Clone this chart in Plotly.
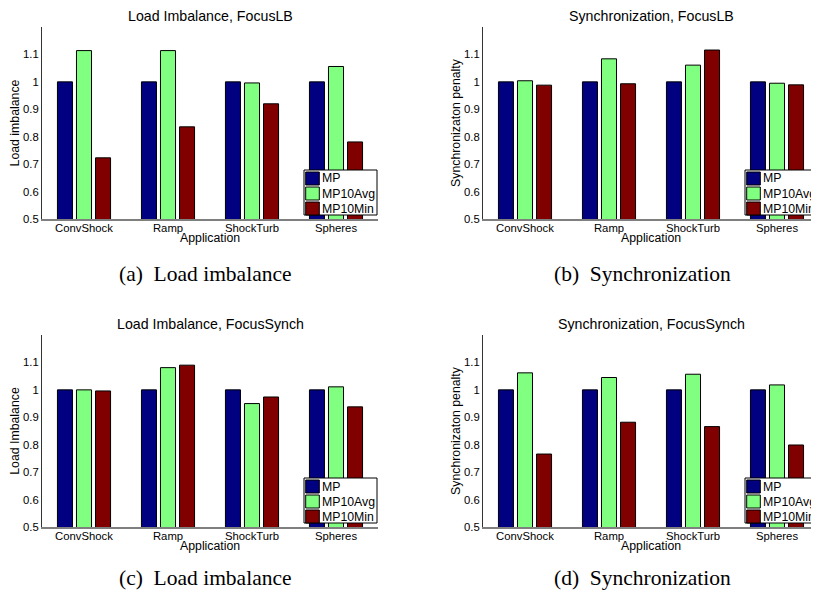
import plotly.graph_objects as go

categories = ["ConvShock", "Ramp", "ShockTurb", "Spheres"]
series_names = ["MP", "MP10Avg", "MP10Min"]
colors = ["#000080", "#80FF80", "#800000"]

# (a) Load imbalance, FocusLB
a_mp = [1.0, 1.0, 1.0, 1.0]
a_avg = [1.114, 1.114, 0.996, 1.056]
a_min = [0.723, 0.836, 0.920, 0.781]
# (b) Synchronization, FocusLB
b_mp = [1.0, 1.0, 1.0, 1.0]
b_avg = [1.004, 1.084, 1.061, 0.995]
b_min = [0.988, 0.993, 1.116, 0.989]
# (c) Load imbalance, FocusSynch
c_mp = [1.0, 1.0, 1.0, 1.0]
c_avg = [1.000, 1.081, 0.950, 1.011]
c_min = [0.996, 1.090, 0.974, 0.938]
# (d) Synchronization, FocusSynch
d_mp = [1.0, 1.0, 1.0, 1.0]
d_avg = [1.062, 1.045, 1.057, 1.018]
d_min = [0.766, 0.882, 0.866, 0.799]

ytick_vals = [0.5, 0.6, 0.7, 0.8, 0.9, 1.0, 1.1]
ytick_text = ["0.5", "0.6", "0.7", "0.8", "0.9", "1", "1.1"]

titles = ["Load Imbalance, FocusLB", "Synchronization, FocusLB",
          "Load Imbalance, FocusSynch", "Synchronization, FocusSynch"]
ytitles = ["Load imbalance", "Synchronizaton penalty",
           "Load Imbalance", "Synchronizaton penalty"]
xtitle = "Application"
captions = ["(a)\u00a0\u00a0Load imbalance", "(b)\u00a0\u00a0Synchronization",
            "(c)\u00a0\u00a0Load imbalance", "(d)\u00a0\u00a0Synchronization"]

panels = [(a_mp, a_avg, a_min), (b_mp, b_avg, b_min),
          (c_mp, c_avg, c_min), (d_mp, d_avg, d_min)]

# The page has an 8px body margin: work in page pixels and shift.
OFF = 8
W, H = 819 - OFF, 594 - OFF
# page-pixel geometry of each panel: (left, right, top, bottom)
geom = [(42, 378, 27, 219), (483, 819, 27, 219),
        (42, 378, 335, 527), (483, 819, 335, 527)]
caption_pos = [(205, 273.5), (642, 273.5), (205, 577.5), (642, 577.5)]


def px(xp):
    return (xp - OFF) / W


def py(yp):
    return 1 - (yp - OFF) / H


SANS = "Liberation Sans, Arial, sans-serif"
SERIF = "Liberation Serif, Times New Roman, serif"

fig = go.Figure()
layout = dict(
    width=W, height=H, margin=dict(l=0, r=0, t=0, b=0),
    paper_bgcolor="white", plot_bgcolor="white",
    barmode="group", bargap=0.32, bargroupgap=0.21,
    showlegend=False, annotations=[], shapes=[],
    font=dict(family=SANS, color="black"),
)

for i, (vals, (l, r, t, b)) in enumerate(zip(panels, geom)):
    sfx = "" if i == 0 else str(i + 1)
    xa, ya = "x" + sfx, "y" + sfx
    for name, col, v in zip(series_names, colors, vals):
        fig.add_trace(go.Bar(
            x=categories, y=v, name=name, xaxis=xa, yaxis=ya,
            marker=dict(color=col, line=dict(color="black", width=1)),
        ))
    layout["xaxis" + sfx] = dict(
        domain=[px(l), px(r)], anchor=ya, showline=True, linecolor="#7f7f7f",
        linewidth=2, ticks="", showgrid=False, zeroline=False,
        tickfont=dict(size=11.3, family=SANS, color="black"),
        ticklabelstandoff=-3,
        automargin=False, fixedrange=True,
    )
    layout["yaxis" + sfx] = dict(
        domain=[py(b), py(t)], anchor=xa, range=[0.5, 1.2],
        showline=True, linecolor="#333333", linewidth=1, ticks="",
        showgrid=False, zeroline=False, tickvals=ytick_vals, ticktext=ytick_text,
        tickfont=dict(size=11.3, family=SANS, color="black"),
        title=dict(text=ytitles[i], font=dict(size=12.3, family=SANS), standoff=0),
        automargin=False, fixedrange=True,
    )
    # x-axis title
    layout["annotations"].append(dict(
        text=xtitle, x=px((l + r) / 2), y=py(b + 19),
        xref="paper", yref="paper", xanchor="center", yanchor="middle",
        showarrow=False, font=dict(size=12.3, family=SANS, color="black"),
    ))
    # panel title
    layout["annotations"].append(dict(
        text=titles[i], x=px((l + r) / 2), y=py(t - 11.5),
        xref="paper", yref="paper", xanchor="center", yanchor="middle",
        showarrow=False, font=dict(size=14.2, family=SANS, color="black"),
    ))
    # caption
    cx, cy = caption_pos[i]
    layout["annotations"].append(dict(
        text=captions[i], x=px(cx), y=py(cy),
        xref="paper", yref="paper", xanchor="center", yanchor="middle",
        showarrow=False, font=dict(size=21.5, family=SERIF, color="black"),
    ))
    # legend box (Matlab style) inside lower-right corner of the axes
    L, T = r - 74, b - 49
    layout["shapes"].append(dict(
        type="rect", xref="paper", yref="paper",
        x0=px(L), x1=px(L + 73), y0=py(T + 45), y1=py(T),
        fillcolor="white", line=dict(color="black", width=1), layer="above",
    ))
    for k, (name, col) in enumerate(zip(series_names, colors)):
        layout["shapes"].append(dict(
            type="rect", xref="paper", yref="paper",
            x0=px(L + 1.7), x1=px(L + 15.3),
            y0=py(T + 15 + 15 * k), y1=py(T + 2 + 15 * k),
            fillcolor=col, line=dict(color="black", width=1), layer="above",
        ))
        layout["annotations"].append(dict(
            text=name, x=px(L + 16), y=py(T + 8.5 + 15 * k),
            xref="paper", yref="paper", xanchor="left", yanchor="middle",
            showarrow=False, font=dict(size=12.3, family=SANS, color="black"),
        ))

fig.update_layout(**layout)
fig.write_html("out.html")
